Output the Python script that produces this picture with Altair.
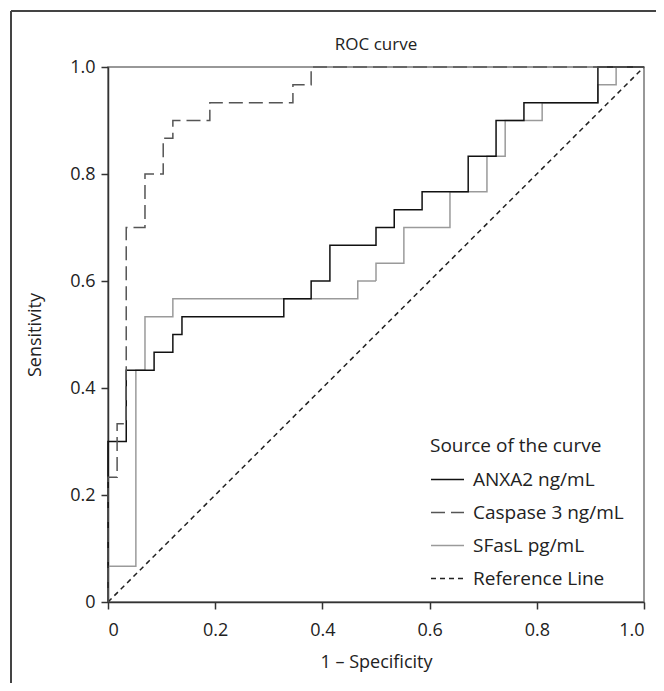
import altair as alt
import pandas as pd

series_names = ["ANXA2 ng/mL", "Caspase 3 ng/mL", "SFasL pg/mL", "Reference Line"]

anxa2_fpr = [0, 0, 0.034, 0.086, 0.121, 0.138, 0.328, 0.379, 0.414, 0.500, 0.534, 0.586, 0.672, 0.724, 0.776, 0.914, 1.0]
anxa2_tpr = [0, 0.300, 0.433, 0.467, 0.500, 0.533, 0.567, 0.600, 0.667, 0.700, 0.733, 0.767, 0.833, 0.900, 0.933, 1.0, 1.0]

casp_fpr = [0, 0, 0.017, 0.034, 0.069, 0.103, 0.121, 0.190, 0.345, 0.379, 1.0]
casp_tpr = [0, 0.233, 0.333, 0.700, 0.800, 0.867, 0.900, 0.933, 0.967, 1.0, 1.0]

sfasl_fpr = [0, 0, 0.052, 0.069, 0.121, 0.466, 0.500, 0.552, 0.638, 0.707, 0.741, 0.810, 0.914, 0.948, 1.0]
sfasl_tpr = [0, 0.067, 0.433, 0.533, 0.567, 0.600, 0.633, 0.700, 0.767, 0.833, 0.900, 0.933, 0.967, 1.0, 1.0]

ref_fpr = [0, 1.0]
ref_tpr = [0, 1.0]

chart_title = ["ROC curve"]

line_colors = ["#111111", "#555555", "#9a9a9a", "#222222"]
line_dashes = [[1, 0], [14, 6], [1, 0], [5, 4]]

rows = []
for name, xs, ys in [
    (series_names[2], sfasl_fpr, sfasl_tpr),
    (series_names[0], anxa2_fpr, anxa2_tpr),
    (series_names[1], casp_fpr, casp_tpr),
]:
    for i, (a, b) in enumerate(zip(xs, ys)):
        rows.append({"series": name, "idx": i, "fpr": a, "tpr": b})
curves = pd.DataFrame(rows)
ref = pd.DataFrame({"series": series_names[3], "idx": [0, 1], "fpr": ref_fpr, "tpr": ref_tpr})
title_df = pd.DataFrame({"t": chart_title})

FONT = "Open Sans"
label_expr = "datum.value == 0 ? '0' : format(datum.value, '.1f')"
ticks = [0, 0.2, 0.4, 0.6, 0.8, 1.0]

x_enc = alt.X("fpr:Q", scale=alt.Scale(domain=[0, 1], nice=False),
              axis=alt.Axis(title="1 – Specificity", values=ticks,
                            labelExpr=label_expr, grid=False, tickSize=7,
                            labelPadding=12, titlePadding=14))
y_enc = alt.Y("tpr:Q", scale=alt.Scale(domain=[0, 1], nice=False),
              axis=alt.Axis(title="Sensitivity", values=ticks,
                            labelExpr=label_expr, grid=False, tickSize=7,
                            labelPadding=6, titlePadding=25))
legend = alt.Legend(title="Source of the curve", orient="none", legendX=322, legendY=370)
color_enc = alt.Color("series:N",
                      scale=alt.Scale(domain=series_names, range=line_colors),
                      legend=legend)
dash_enc = alt.StrokeDash("series:N",
                          scale=alt.Scale(domain=series_names, range=line_dashes),
                          legend=legend)

curve_layer = alt.Chart(curves).mark_line(interpolate="step-after", strokeWidth=1.5).encode(
    x=x_enc, y=y_enc, color=color_enc, strokeDash=dash_enc,
    detail="series:N", order=alt.Order("idx:Q"))

ref_layer = alt.Chart(ref).mark_line(strokeWidth=1.5).encode(
    x=x_enc, y=y_enc, color=color_enc, strokeDash=dash_enc, order=alt.Order("idx:Q"))

title_layer = alt.Chart(title_df).mark_text(
    font=FONT, fontSize=17, color="#222222", align="center", baseline="middle"
).encode(text="t:N", x=alt.value(268), y=alt.value(-22))

frame_h = alt.Chart(ref).mark_rule(color="#444444", strokeWidth=2).encode(
    x=alt.value(-97), x2=alt.value(700), y=alt.value(-56))
frame_v = alt.Chart(ref).mark_rule(color="#444444", strokeWidth=2).encode(
    x=alt.value(-97), y=alt.value(-56), y2=alt.value(700))

chart = alt.layer(ref_layer, curve_layer, title_layer, frame_h, frame_v).properties(
    width=536, height=535,
    autosize=alt.AutoSizeParams(type="none"),
    padding={"left": 100, "top": 59, "right": 12, "bottom": 81},
).configure_view(stroke="#777777", strokeWidth=1.5).configure_axis(
    labelFont=FONT, titleFont=FONT, labelFontSize=18, titleFontSize=18,
    labelColor="#222222", titleColor="#222222", titleFontWeight="normal",
    domainColor="#333333", tickColor="#333333", domainWidth=1.5, tickWidth=1.5,
).configure_legend(
    titleFont=FONT, labelFont=FONT, titleFontSize=19, labelFontSize=19,
    titleFontWeight="normal", titleColor="#222222", labelColor="#222222",
    symbolType="stroke", symbolSize=1089, symbolStrokeWidth=1.5,
    labelOffset=8, rowPadding=5, titlePadding=6,
)

chart.save("out.html", embed_options={"renderer": "svg", "actions": False})
